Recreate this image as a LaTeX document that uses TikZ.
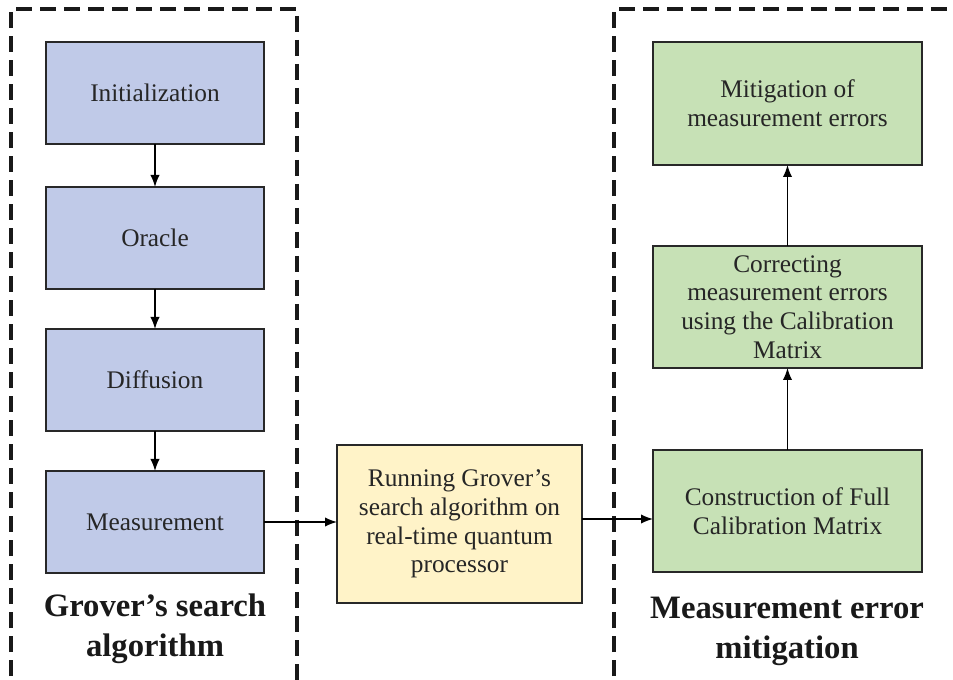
\documentclass[tikz,border=0pt]{standalone}
\usepackage{fontspec}
\setmainfont{LiberationSerif}[Extension=.ttf, UprightFont=*-Regular, BoldFont=*-Bold, ItalicFont=*-Italic, BoldItalicFont=*-BoldItalic]
\usetikzlibrary{arrows.meta}
\definecolor{bluefill}{RGB}{192,202,232}
\definecolor{greenfill}{RGB}{199,225,182}
\definecolor{yellowfill}{RGB}{255,243,200}
\definecolor{edge}{RGB}{40,40,40}
\tikzset{
  boxbase/.style={draw=edge, line width=1.2pt, inner sep=0pt, outer sep=0pt, align=center,
    font=\fontsize{19}{21.5}\selectfont, text=black!85},
  bluebox/.style={boxbase, fill=bluefill, minimum width=163.5pt, minimum height=76.5pt},
  greenbox/.style={boxbase, fill=greenfill, minimum width=201.75pt, minimum height=91.5pt},
  yellowbox/.style={boxbase, fill=yellowfill, minimum width=183.75pt, minimum height=118.5pt},
  conn/.style={-{Latex[length=9pt,width=7pt]}, line width=1.1pt, draw=black},
  groupframe/.style={dash pattern=on 12pt off 6pt, line width=2.4pt, draw=black!90},
  titletext/.style={align=center, font=\fontsize{24.5}{30}\selectfont\bfseries, text=black!90}
}
\begin{document}
\begin{tikzpicture}[x=0.75pt,y=-0.75pt]
\useasboundingbox (0,0) rectangle (953,680);
\fill[white] (0,0) rectangle (953,680);
\clip (0,0) rectangle (953,680);
% dashed group frames
\draw[groupframe] (11,700) -- (11,9) -- (297,9) -- (297,700);
\draw[groupframe] (614,700) -- (614,9) -- (975,9);
% left column
\node[bluebox] (init) at (155,93) {Initialization};
\node[bluebox] (oracle) at (155,238) {Oracle};
\node[bluebox] (diff) at (155,380) {Diffusion};
\node[bluebox] (meas) at (155,522) {Measurement};
% middle
\node[yellowbox] (run) at (459.5,524) {Running Grover’s\\search algorithm on\\real-time quantum\\processor};
% right column
\node[greenbox, minimum height=92.25pt] (mitig) at (787.5,103.5) {Mitigation of\\measurement errors};
\node[greenbox] (correct) at (787.5,307) {Correcting\\measurement errors\\using the Calibration\\Matrix};
\node[greenbox] (construct) at (787.5,511) {Construction of Full\\Calibration Matrix};
% titles
\node[titletext] (gtitle) at (155,629) {Grover’s search\\algorithm};
\node[titletext] (mtitle) at (787,631) {Measurement error\\mitigation};
% connectors
\draw[conn] (init) -- (oracle);
\draw[conn] (oracle) -- (diff);
\draw[conn] (diff) -- (meas);
\draw[conn] (meas.east) -- (meas.east -| run.west);
\draw[conn] (run.east |- 0,519) -- (construct.west |- 0,519);
\draw[conn] (construct) -- (correct);
\draw[conn] (correct) -- (mitig);
\end{tikzpicture}
\end{document}
